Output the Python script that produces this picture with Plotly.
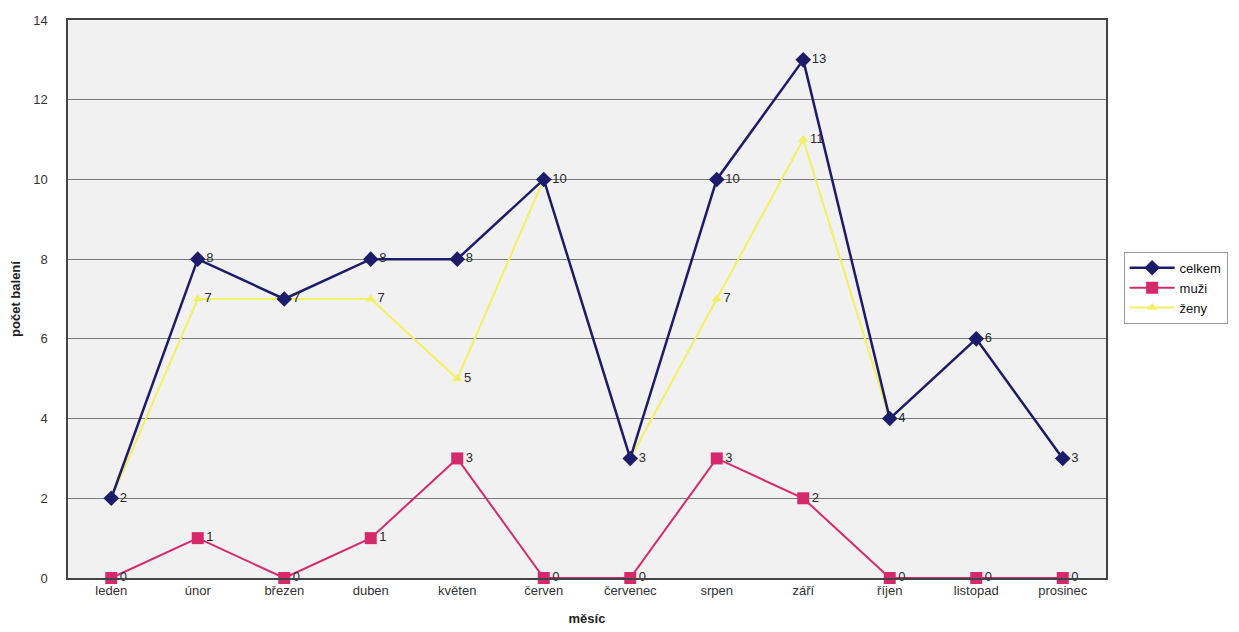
import plotly.graph_objects as go

months = ["leden", "únor", "březen", "duben", "květen", "červen",
          "červenec", "srpen", "září", "říjen", "listopad", "prosinec"]
celkem = [2, 8, 7, 8, 8, 10, 3, 10, 13, 4, 6, 3]
muzi = [0, 1, 0, 1, 3, 0, 0, 3, 2, 0, 0, 0]
zeny = [2, 7, 7, 7, 5, 10, 3, 7, 11, 4, 6, 3]

label_font = dict(family="Liberation Sans, Arial", size=13, color="#2a2a2a")

# avoid drawing the same label twice where ženy equals celkem
zeny_text = ["" if z == c else str(z) for z, c in zip(zeny, celkem)]

fig = go.Figure()
fig.add_trace(go.Scatter(
    x=months, y=zeny, name="ženy", mode="lines+markers+text",
    line=dict(color="#f0f060", width=2),
    marker=dict(symbol="triangle-up", size=9, color="#f0f060"),
    text=zeny_text, textposition="middle right",
    textfont=label_font, cliponaxis=False,
))
fig.add_trace(go.Scatter(
    x=months, y=muzi, name="muži", mode="lines+markers+text",
    line=dict(color="#d42a6c", width=2),
    marker=dict(symbol="square", size=12, color="#d42a6c"),
    text=[str(v) for v in muzi], textposition="middle right",
    textfont=label_font, cliponaxis=False,
))
fig.add_trace(go.Scatter(
    x=months, y=celkem, name="celkem", mode="lines+markers+text",
    line=dict(color="#1c1c6a", width=2.5),
    marker=dict(symbol="diamond", size=12, color="#1c1c6a"),
    text=[str(v) for v in celkem], textposition="middle right",
    textfont=label_font, cliponaxis=False,
))

fig.update_layout(
    width=1231, height=624,
    margin=dict(l=60, r=132, t=12, b=54),
    paper_bgcolor="white",
    plot_bgcolor="#f1f1f1",
    font=dict(family="Liberation Sans, Arial", size=13, color="#333333"),
    legend=dict(
        x=1.016, y=0.52, xanchor="left", yanchor="middle",
        traceorder="reversed",
        bordercolor="#999999", borderwidth=1,
        bgcolor="white",
        font=dict(size=13, color="#111111"),
        itemwidth=45,
    ),
    xaxis=dict(
        type="category", range=[-0.5, 11.5], automargin=False,
        showgrid=False, showline=True, linecolor="#444444", linewidth=1.5,
        mirror=True, ticks="", tickfont=dict(size=13, color="#333333"),
        title=dict(text="<b>měsíc</b>", font=dict(size=13, color="#222222"), standoff=17),
    ),
    yaxis=dict(
        range=[0, 14], dtick=2, automargin=False,
        showgrid=True, gridcolor="#7a7a7a", gridwidth=1,
        showline=True, linecolor="#444444", linewidth=1.5, mirror=True,
        zeroline=False, ticks="", ticklabelstandoff=16,
        tickfont=dict(size=13, color="#333333"),
        title=dict(text="<b>počet balení</b>", font=dict(size=13, color="#222222"), standoff=12),
    ),
)

fig.write_html("out.html")
